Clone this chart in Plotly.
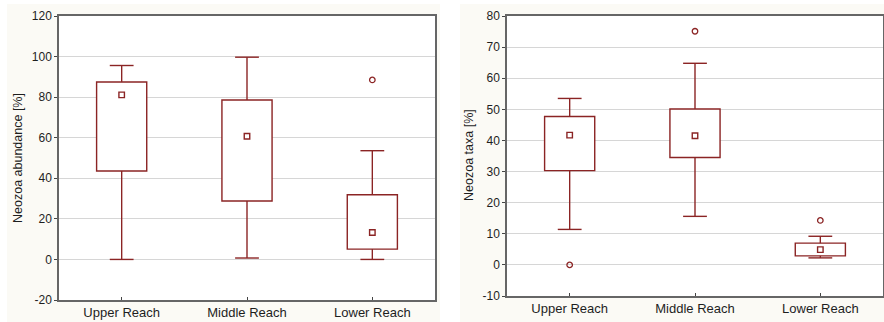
import plotly.graph_objects as go

categories = ["Upper Reach", "Middle Reach", "Lower Reach"]

# Left panel: Neozoa abundance [%]
ab_lower = [0.0, 0.7, 0.0]
ab_q1 = [43.6, 28.8, 5.1]
ab_median = [81.1, 60.7, 13.3]
ab_q3 = [87.5, 78.6, 31.9]
ab_upper = [95.6, 99.7, 53.6]
ab_out_x = ["Lower Reach"]
ab_out_y = [88.5]
ab_ticks = [-20, 0, 20, 40, 60, 80, 100, 120]
ab_ticktext = ["-20", "0", "20", "40", "60", "80", "100", "120"]

# Right panel: Neozoa taxa [%]
tx_lower = [11.4, 15.6, 2.25]
tx_q1 = [30.3, 34.5, 2.9]
tx_median = [41.7, 41.5, 4.9]
tx_q3 = [47.7, 50.1, 7.0]
tx_upper = [53.5, 64.8, 9.2]
tx_out_x = ["Upper Reach", "Middle Reach", "Lower Reach"]
tx_out_y = [0.0, 75.1, 14.3]
tx_ticks = [-10, 0, 10, 20, 30, 40, 50, 60, 70, 80]
tx_ticktext = ["-10", "0", "10", "20", "30", "40", "50", "60", "70", "80"]

RED = "#8b2424"
FONT = "Liberation Sans, Arial, sans-serif"
TXT = "#1e1e1e"
CREAM = "#fbfaf5"
LW = 1.4

W, H = 884, 322

fig = go.Figure()


def add_panel(xa, ya, lower, q1, med, q3, upper, ox, oy):
    # box (q1..q3) as an outlined white bar
    fig.add_trace(go.Bar(
        x=categories, base=q1, y=[b - a for a, b in zip(q1, q3)], width=0.4,
        marker=dict(color="white", line=dict(color=RED, width=LW)),
        xaxis=xa, yaxis=ya, showlegend=False, hoverinfo="skip",
    ))
    # upper whiskers q3 -> upper
    fig.add_trace(go.Scatter(
        x=categories, y=q3, mode="markers", marker=dict(size=1, opacity=0),
        error_y=dict(type="data", symmetric=False,
                     array=[u - b for b, u in zip(q3, upper)], arrayminus=[0] * len(q3),
                     width=0, thickness=LW, color=RED),
        xaxis=xa, yaxis=ya, showlegend=False, hoverinfo="skip",
    ))
    # lower whiskers q1 -> lower
    fig.add_trace(go.Scatter(
        x=categories, y=q1, mode="markers", marker=dict(size=1, opacity=0),
        error_y=dict(type="data", symmetric=False,
                     array=[0] * len(q1), arrayminus=[a - l for l, a in zip(lower, q1)],
                     width=0, thickness=LW, color=RED),
        xaxis=xa, yaxis=ya, showlegend=False, hoverinfo="skip",
    ))
    # whisker caps
    fig.add_trace(go.Scatter(
        x=categories + categories, y=list(lower) + list(upper), mode="markers",
        marker=dict(symbol="line-ew", size=17, color=RED, line=dict(width=LW, color=RED)),
        xaxis=xa, yaxis=ya, showlegend=False, hoverinfo="skip",
    ))
    # medians
    fig.add_trace(go.Scatter(
        x=categories, y=med, mode="markers",
        marker=dict(symbol="square-open", size=5.5, color=RED, line=dict(width=1.4, color=RED)),
        xaxis=xa, yaxis=ya, showlegend=False,
    ))
    # outliers
    fig.add_trace(go.Scatter(
        x=ox, y=oy, mode="markers",
        marker=dict(symbol="circle-open", size=5.5, color=RED, line=dict(width=1.3, color=RED)),
        xaxis=xa, yaxis=ya, showlegend=False,
    ))


add_panel("x", "y", ab_lower, ab_q1, ab_median, ab_q3, ab_upper, ab_out_x, ab_out_y)
add_panel("x2", "y2", tx_lower, tx_q1, tx_median, tx_q3, tx_upper, tx_out_x, tx_out_y)

axis_common = dict(
    showline=True, mirror=True, linecolor="#666666", linewidth=1.5,
    automargin=False, zeroline=False,
)

xcommon = dict(axis_common, type="category", range=[-0.5, 2.5], showgrid=False,
               ticks="inside", ticklen=3, tickcolor="#444",
               tickfont=dict(family=FONT, size=13, color=TXT))
ycommon = dict(axis_common, showgrid=True, gridcolor="#d6d6d6", gridwidth=1,
               ticks="outside", ticklen=3, tickcolor="#444",
               tickfont=dict(family=FONT, size=12, color=TXT))

fig.update_layout(
    width=W, height=H,
    margin=dict(l=0, r=0, t=0, b=0),
    paper_bgcolor=CREAM, plot_bgcolor="white",
    showlegend=False, barmode="overlay",
    xaxis=dict(xcommon, domain=[59 / W, 435 / W], anchor="y"),
    yaxis=dict(ycommon, domain=[(H - 300) / H, (H - 16) / H], range=[-20, 120],
               tickvals=ab_ticks, ticktext=ab_ticktext, anchor="x"),
    xaxis2=dict(xcommon, domain=[507 / W, 883 / W], anchor="y2"),
    yaxis2=dict(ycommon, domain=[(H - 296) / H, (H - 16) / H], range=[-10, 80],
                tickvals=tx_ticks, ticktext=tx_ticktext, anchor="x2"),
    shapes=[
        dict(type="rect", xref="paper", yref="paper", x0=0, x1=7 / W, y0=0, y1=1,
             fillcolor="white", line=dict(width=0), layer="below"),
        dict(type="rect", xref="paper", yref="paper", x0=440 / W, x1=460 / W, y0=0, y1=1,
             fillcolor="white", line=dict(width=0), layer="below"),
        dict(type="rect", xref="paper", yref="paper", x0=0, x1=1, y0=(H - 4) / H, y1=1,
             fillcolor="white", line=dict(width=0), layer="below"),
    ],
    annotations=[
        dict(text="Neozoa abundance [%]", xref="paper", yref="paper", x=18 / W, y=(H - 158) / H,
             textangle=-90, showarrow=False, font=dict(family=FONT, size=12.5, color=TXT),
             xanchor="center", yanchor="middle"),
        dict(text="Neozoa taxa [%]", xref="paper", yref="paper", x=469 / W, y=(H - 155) / H,
             textangle=-90, showarrow=False, font=dict(family=FONT, size=12.5, color=TXT),
             xanchor="center", yanchor="middle"),
    ],
)

fig.write_html("out.html")
